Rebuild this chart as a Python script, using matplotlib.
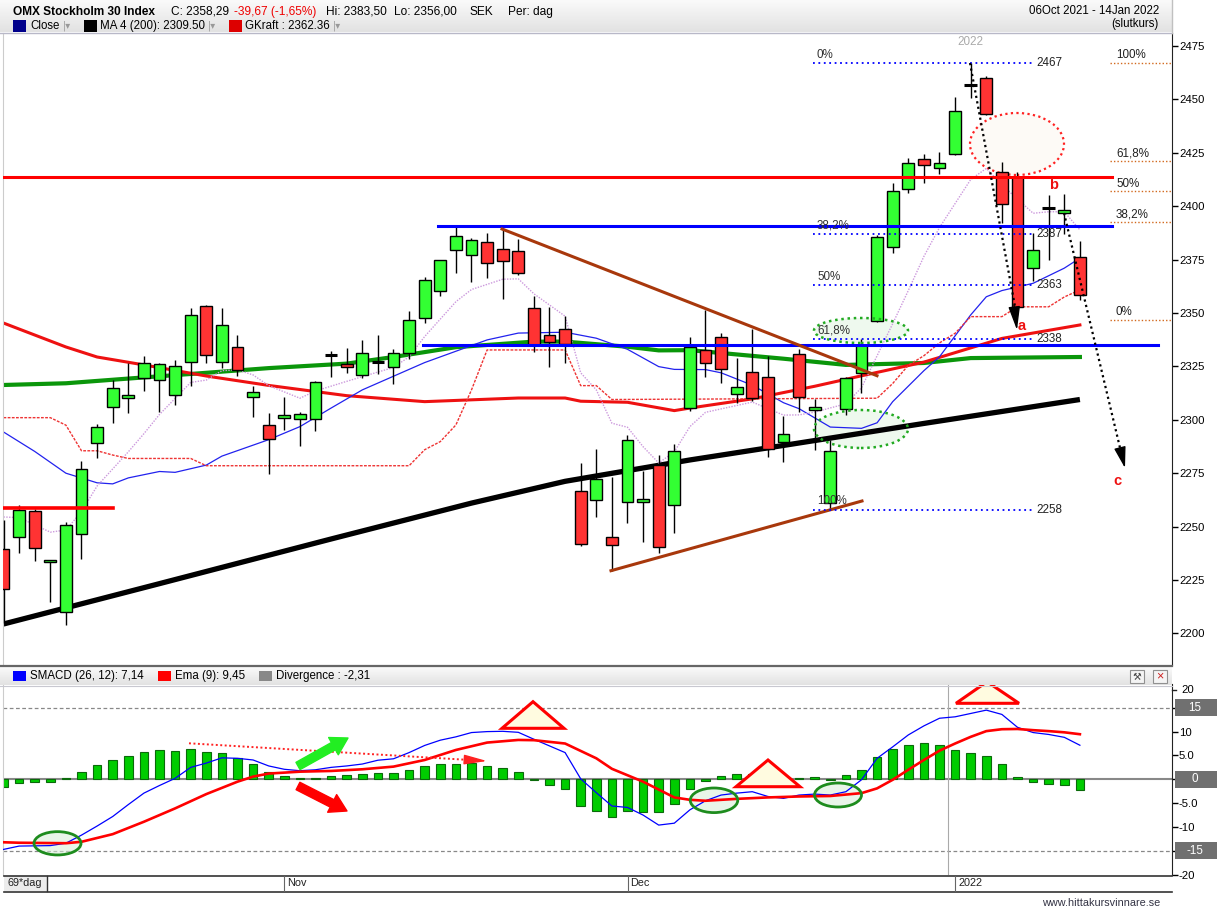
import matplotlib
matplotlib.use('Agg')
import matplotlib.pyplot as plt
import numpy as np
from matplotlib.patches import Rectangle, Ellipse, Polygon
from matplotlib.colors import LinearSegmentedColormap

plt.rcParams['font.family'] = ['Liberation Sans', 'DejaVu Sans']

# ---------------- data ----------------
month_labels = ['Nov', 'Dec', '2022']
month_start_idx = [18, 40, 61]

opens = [2239.5, 2245.0, 2257.3, 2233.3, 2209.9, 2246.4, 2289.3, 2305.9, 2310.1, 2319.4,
         2318.6, 2311.5, 2326.9, 2353.1, 2326.9, 2334.0, 2310.5, 2297.4, 2300.7, 2300.2,
         2300.2, 2330.5, 2326.0, 2321.0, 2327.0, 2324.6, 2331.1, 2347.5, 2360.2, 2379.4,
         2377.0, 2383.1, 2379.8, 2378.9, 2352.2, 2339.6, 2342.4, 2266.5, 2262.3, 2245.0,
         2261.4, 2261.4, 2278.7, 2260.0, 2305.4, 2332.7, 2338.9, 2312.1, 2322.2, 2320.0,
         2289.5, 2330.8, 2304.4, 2261.2, 2304.9, 2322.1, 2346.3, 2381.0, 2407.9, 2422.0,
         2417.9, 2424.3, 2456.7, 2459.9, 2415.9, 2413.8, 2371.2, 2399.3, 2396.7, 2376.1]
highs = [2253.0, 2260.0, 2258.3, 2234.4, 2252.2, 2280.7, 2297.9, 2318.6, 2326.7, 2329.9,
         2326.4, 2328.0, 2352.2, 2353.7, 2352.3, 2339.7, 2315.8, 2303.0, 2310.8, 2303.5,
         2318.2, 2332.2, 2333.5, 2337.4, 2339.7, 2333.0, 2350.9, 2366.7, 2374.9, 2390.4,
         2385.0, 2387.3, 2389.7, 2384.5, 2358.0, 2352.8, 2348.5, 2279.6, 2286.5, 2273.4,
         2292.9, 2276.2, 2283.5, 2288.7, 2338.6, 2351.4, 2340.8, 2328.8, 2342.4, 2329.9,
         2301.8, 2333.1, 2309.7, 2290.5, 2320.0, 2338.0, 2386.5, 2410.7, 2422.4, 2424.3,
         2425.2, 2451.0, 2467.0, 2461.0, 2420.6, 2416.2, 2387.3, 2405.2, 2405.7, 2383.5]
lows = [2205.0, 2237.6, 2234.0, 2214.9, 2203.9, 2235.0, 2282.0, 2298.4, 2303.0, 2313.6,
        2303.8, 2306.9, 2315.8, 2326.5, 2324.1, 2320.6, 2301.4, 2274.8, 2295.2, 2287.9,
        2294.9, 2320.2, 2322.0, 2319.4, 2321.3, 2316.6, 2328.3, 2345.2, 2358.0, 2368.9,
        2364.7, 2366.5, 2356.4, 2368.0, 2331.6, 2324.6, 2326.7, 2241.1, 2254.6, 2229.4,
        2251.5, 2242.9, 2237.8, 2247.1, 2304.3, 2320.2, 2317.4, 2308.0, 2308.9, 2282.7,
        2280.4, 2303.8, 2285.9, 2258.0, 2302.3, 2312.4, 2345.8, 2377.9, 2406.3, 2410.7,
        2415.1, 2424.0, 2450.8, 2442.6, 2392.0, 2352.4, 2365.1, 2374.8, 2387.0, 2356.0]
closes = [2221.0, 2257.8, 2239.8, 2234.3, 2250.6, 2276.8, 2296.6, 2314.8, 2311.5, 2326.4,
          2326.0, 2325.1, 2348.9, 2330.2, 2344.2, 2323.3, 2312.8, 2290.9, 2302.1, 2302.6,
          2317.5, 2330.5, 2324.6, 2331.4, 2327.0, 2331.1, 2346.6, 2365.3, 2374.7, 2385.9,
          2384.0, 2373.3, 2374.2, 2368.6, 2335.0, 2336.3, 2335.4, 2241.7, 2272.2, 2241.2,
          2290.5, 2262.9, 2240.3, 2285.3, 2334.2, 2326.5, 2323.6, 2315.5, 2310.1, 2286.2,
          2293.2, 2310.8, 2306.0, 2285.5, 2319.4, 2335.0, 2385.7, 2407.0, 2420.4, 2419.2,
          2420.1, 2444.6, 2456.7, 2443.0, 2400.9, 2352.7, 2379.5, 2399.3, 2398.1, 2358.29]

# moving averages / bands (candle index, value)
ma200_idx = [0, 10, 21, 30, 36, 44, 50, 59, 69]
ma200_val = [2204.4, 2223.3, 2244.2, 2261.0, 2271.2, 2281.2, 2288.0, 2298.3, 2309.5]

red_ma_idx = [0, 4, 6, 9, 13, 17, 22, 27, 33, 36, 37, 40, 43, 44, 48, 52, 55, 59, 64, 69]
red_ma_val = [2345.3, 2334.1, 2329.4, 2325.7, 2320.5, 2316.1, 2311.3, 2308.5, 2310.2, 2310.2,
              2308.7, 2308.2, 2304.3, 2305.5, 2309.8, 2315.7, 2320.6, 2327.0, 2338.1, 2344.4]

green_ma_idx = [0, 4, 8, 13, 17, 22, 25, 29, 34, 36, 40, 42, 44, 50, 54, 59, 62, 69]
green_ma_val = [2316.3, 2317.1, 2319.3, 2322.0, 2324.2, 2326.3, 2329.4, 2334.0, 2336.6, 2336.6,
                2334.2, 2332.5, 2332.6, 2328.6, 2325.7, 2326.6, 2328.9, 2329.4]

blue_ma_idx = [0, 2, 4, 6, 7, 8, 10, 11, 13, 14, 17, 19, 21, 23, 27, 31, 33, 36, 38, 40,
               42, 43, 45, 46, 48, 50, 51, 53, 55, 56, 57, 59, 60, 62, 63, 64, 66, 68, 69]
blue_ma_val = [2294.3, 2285.2, 2275.0, 2270.5, 2270.0, 2272.8, 2275.8, 2275.4, 2278.8, 2283.0,
               2290.7, 2296.8, 2305.5, 2314.0, 2326.8, 2337.4, 2340.6, 2341.0, 2338.2, 2333.0,
               2324.9, 2323.6, 2323.5, 2322.0, 2316.2, 2308.0, 2305.2, 2296.6, 2296.0, 2298.6,
               2308.5, 2323.0, 2329.5, 2349.1, 2357.6, 2360.5, 2363.9, 2371.0, 2375.7]

pink_idx = [0, 1, 3, 4, 5, 6, 8, 9, 10, 12, 13, 14, 15, 16, 17, 19, 20, 22, 23, 25, 26, 27,
            29, 30, 32, 33, 34, 36, 37, 38, 39, 40, 41, 42, 43, 44, 45, 48, 50, 51, 52, 54,
            55, 57, 58, 59, 60, 62, 63, 64, 66, 67, 68, 69]
pink_val = [2254.5, 2254.2, 2247.4, 2248.4, 2257.0, 2269.0, 2285.0, 2293.5, 2302.5, 2317.5,
            2318.6, 2323.0, 2323.4, 2321.0, 2316.0, 2310.1, 2313.5, 2318.0, 2320.2, 2324.5,
            2329.5, 2339.0, 2355.3, 2361.0, 2365.8, 2366.0, 2359.0, 2348.5, 2322.0, 2314.0,
            2298.4, 2296.5, 2287.4, 2279.8, 2285.0, 2296.8, 2303.5, 2308.3, 2302.2, 2302.3,
            2303.6, 2307.5, 2315.0, 2345.0, 2360.5, 2376.5, 2390.0, 2412.5, 2417.7, 2410.0,
            2396.7, 2397.4, 2397.4, 2388.9]

gkraft_idx = [0, 3, 4, 5, 6, 7, 8, 12, 13, 26, 27, 28, 29, 30, 31, 36, 37, 38, 39, 56,
              57, 58, 59, 60, 61, 62, 64, 65, 67, 68, 69]
gkraft_val = [2301.0, 2301.0, 2297.5, 2285.5, 2285.5, 2283.5, 2281.9, 2281.9, 2278.5, 2278.5,
              2286.0, 2289.8, 2297.6, 2314.0, 2332.7, 2332.7, 2316.0, 2316.0, 2309.5, 2310.1,
              2317.0, 2325.5, 2330.0, 2336.0, 2340.5, 2348.3, 2348.3, 2352.9, 2352.9, 2357.5,
              2360.8]

# lower panel: SMACD, EMA(9) and divergence histogram
smacd = [-14.7, -14.0, -13.95, -13.9, -13.4, -11.7, -9.8, -7.8, -5.3, -2.9,
         -1.3, 0.2, 2.5, 3.4, 4.5, 4.4, 4.05, 2.8, 2.1, 1.8,
         2.0, 2.5, 2.8, 3.2, 4.0, 4.3, 5.6, 7.1, 8.2, 8.9,
         9.8, 10.0, 10.06, 9.85, 8.4, 7.0, 5.6, 0.1, -2.8, -5.6,
         -5.9, -7.5, -9.6, -9.2, -6.4, -4.5, -3.3, -2.9, -2.6, -3.6,
         -4.0, -3.3, -3.1, -3.3, -2.6, -0.1, 4.4, 6.8, 9.3, 11.2,
         12.8, 13.1, 13.8, 14.5, 13.6, 10.9, 9.8, 9.4, 8.8, 7.14]
ema_idx = [0, 1, 4, 5, 7, 9, 11, 13, 15, 16, 17, 19, 21, 23, 25, 27, 29, 31, 33, 34, 36,
           38, 39, 41, 43, 44, 45, 47, 49, 51, 53, 55, 56, 57, 58, 59, 60, 61, 62, 63, 64,
           65, 66, 67, 68, 69]
ema_val = [-13.2, -13.3, -13.4, -13.1, -11.5, -8.9, -6.1, -3.1, -0.5, 0.56, 1.2, 1.6, 1.75,
           2.1, 2.66, 4.05, 6.15, 7.7, 8.25, 8.2, 7.5, 4.4, 2.2, -0.5, -3.8, -4.3, -4.5,
           -4.1, -3.8, -3.6, -3.5, -2.9, -1.9, -0.1, 2.0, 4.05, 6.0, 7.5, 8.9, 10.1, 10.5,
           10.55, 10.3, 10.1, 9.85, 9.45]
divergence = [-1.68, -0.84, -0.56, -0.63, 0.21, 1.47, 2.93, 3.98, 4.82, 5.66,
              6.08, 5.87, 6.29, 5.66, 5.45, 4.40, 3.14, 1.47, 0.63, 0.21,
              0.21, 0.63, 0.84, 1.05, 1.26, 1.26, 1.89, 2.73, 3.14, 3.14,
              3.35, 2.73, 2.31, 1.47, -0.1, -1.26, -2.10, -5.66, -6.71, -7.97,
              -6.71, -6.78, -6.92, -5.24, -2.10, -0.42, 0.63, 1.05, 1.05, 0.07,
              0.1, 0.21, 0.42, -0.2, 0.84, 1.89, 4.61, 6.29, 7.13, 7.55,
              7.13, 6.08, 5.45, 4.82, 3.14, 0.42, -0.63, -1.05, -1.26, -2.31]

main_ticks = [2200, 2225, 2250, 2275, 2300, 2325, 2350, 2375, 2400, 2425, 2450, 2475]
fib_left_levels = [2467, 2387, 2363, 2338, 2258]
fib_left_pcts = ['0%', '38,2%', '50%', '61,8%', '100%']
fib_right_levels = [2467, 2421.3, 2406.9, 2392.7, 2346.7]
fib_right_pcts = ['100%', '61,8%', '50%', '38,2%', '0%']

# ---------------- layout helpers ----------------
W, H = 1217, 907
fig = plt.figure(figsize=(W / 100, H / 100), dpi=100)
fig.patch.set_facecolor('white')


def fx(px):
    return px / W


def fy(py):
    return 1 - py / H


X0, DX = 3.5, 15.6


def xi(px):
    return (px - X0) / DX


def vmain(py):
    return 2475 - (py - 46) / 2.136


def vlow(py):
    return (779.3 - py) / 4.77


AX_L, AX_R = 3, 1172

# ---------------- main panel ----------------
ax = fig.add_axes([fx(AX_L), fy(665), fx(AX_R) - fx(AX_L), fy(33) - fy(665)])
ax.set_xlim(xi(AX_L), xi(AX_R))
ax.set_ylim(vmain(665), vmain(33))
for s in ['top', 'bottom']:
    ax.spines[s].set_visible(False)
ax.spines['left'].set_color('#cccccc')
ax.spines['right'].set_color('#222222')
ax.set_xticks([])
ax.yaxis.tick_right()
ax.set_yticks(main_ticks)
ax.tick_params(axis='y', length=4, width=1, pad=1, labelsize=8.2, colors='black')

# ellipses (under the indicator lines)
ax.add_patch(Ellipse((xi(1017), vmain(144)), 94 / DX, 62 / 2.136, facecolor='#fdfaf6',
                     edgecolor='#ff2222', lw=1.6, ls=(0, (1, 1.5)), zorder=1.5))
for cy, hh in [(330.5, 25), (429, 38)]:
    ax.add_patch(Ellipse((xi(861), vmain(cy)), 94 / DX, hh / 2.136, facecolor='#e4f6e4',
                         alpha=0.6, edgecolor='none', zorder=1.5))
    ax.add_patch(Ellipse((xi(861), vmain(cy)), 94 / DX, hh / 2.136, facecolor='none',
                         edgecolor='#22aa22', lw=1.8, ls=(0, (1, 1.5)), zorder=6))

# indicator lines (under candles)
ax.plot(ma200_idx, ma200_val, color='black', lw=3.8, zorder=2, solid_capstyle='butt')
ax.plot(green_ma_idx, green_ma_val, color='#0a960a', lw=3.0, zorder=2)
ax.plot(red_ma_idx, red_ma_val, color='#ee1111', lw=2.2, zorder=2)
ax.plot(blue_ma_idx, blue_ma_val, color='#2222ee', lw=0.9, zorder=2)
ax.plot(pink_idx, pink_val, color='#cc99dd', lw=1.0, ls=(0, (1, 1)), zorder=2)
ax.plot(gkraft_idx, gkraft_val, color='#ee3333', lw=1.0, ls=(0, (2, 1)), zorder=2)

# candles
o = np.array(opens); c = np.array(closes); hi = np.array(highs); lo = np.array(lows)
idx = np.arange(len(o))
doji = np.abs(c - o) < 0.05
up = c >= o
cols = np.where(up, '#33ff33', '#ff3333')
ax.vlines(idx, lo, hi, color='black', lw=1.0, zorder=4)
nb = ~doji
ax.bar(idx[nb], np.abs(c - o)[nb], bottom=np.minimum(o, c)[nb], width=0.76,
       color=cols[nb], edgecolor='black', linewidth=1.0, zorder=5)
ax.hlines(o[doji], idx[doji] - 0.4, idx[doji] + 0.4, color='black', lw=2.2, zorder=5)

# horizontal support / resistance lines
ax.plot([xi(AX_L), xi(1112)], [2413.7, 2413.7], color='#ff0000', lw=2.2, zorder=6)
ax.plot([xi(AX_L), xi(113)], [2258.6, 2258.6], color='#ff0000', lw=2.6, zorder=6)
ax.plot([xi(438), xi(1112)], [2390.9, 2390.9], color='#0000ff', lw=2.2, zorder=6)
ax.plot([xi(423), xi(1158)], [2334.8, 2334.8], color='#0000ff', lw=2.2, zorder=6)
# trend lines
ax.plot([xi(502), xi(877)], [vmain(229), vmain(375.7)], color='#a8380c', lw=2.2, zorder=6)
ax.plot([xi(611), xi(862)], [vmain(570.7), vmain(501)], color='#a8380c', lw=2.2, zorder=6)

# fibonacci (left set)
for lev, pct in zip(fib_left_levels, fib_left_pcts):
    ax.plot([xi(813), xi(1032)], [lev, lev], color='#0000ff', lw=1.3, ls=(0, (1, 2)), zorder=6)
    ax.text(xi(1036), lev, str(lev), ha='left', va='center', fontsize=8.4, color='#222222', zorder=7)
    ax.text(xi(817), lev + 3.8, pct, ha='left', va='center', fontsize=8.4, color='#333333', zorder=7)
# fibonacci (right set)
for lev, pct in zip(fib_right_levels, fib_right_pcts):
    ax.plot([xi(1110), xi(1171)], [lev, lev], color='#d2691e', lw=1.0, ls=(0, (1, 1.5)), zorder=6)
    ax.text(xi(1116), lev + 3.6, pct, ha='left', va='center', fontsize=8.4, color='#222222', zorder=7)

# dotted arrows
ax.plot([xi(970), xi(1016)], [vmain(63), vmain(312)], color='black', lw=1.6, ls=(0, (1, 1.5)), zorder=7)
ax.annotate('', xy=(xi(1017), vmain(330)), xytext=(xi(1014), vmain(305)),
            arrowprops=dict(arrowstyle='-|>,head_length=1.45,head_width=0.36', color='black',
                            lw=1, mutation_scale=10, shrinkA=0, shrinkB=0), zorder=8)
ax.plot([xi(1064), xi(1121)], [vmain(213), vmain(452)], color='black', lw=1.6, ls=(0, (1, 1.5)), zorder=7)
ax.annotate('', xy=(xi(1125), vmain(468)), xytext=(xi(1120), vmain(448)),
            arrowprops=dict(arrowstyle='-|>,head_length=1.3,head_width=0.36', color='black',
                            lw=1, mutation_scale=10, shrinkA=0, shrinkB=0), zorder=8)

ax.text(xi(1022), vmain(326), 'a', color='#ee1111', fontsize=10.5, fontweight='bold',
        ha='center', va='center', zorder=8)
ax.text(xi(1054), vmain(185), 'b', color='#ee1111', fontsize=10.5, fontweight='bold',
        ha='center', va='center', zorder=8)
ax.text(xi(1117), vmain(481), 'c', color='#ee1111', fontsize=10.5, fontweight='bold',
        ha='center', va='center', zorder=8)
ax.text(xi(970.5), vmain(42), '2022', color='#aaaaaa', fontsize=8.4, ha='center', va='center', zorder=8)

# ---------------- lower panel ----------------
axl = fig.add_axes([fx(AX_L), fy(875), fx(AX_R) - fx(AX_L), fy(684) - fy(875)])
axl.set_xlim(xi(AX_L), xi(AX_R))
axl.set_ylim(vlow(875), vlow(684))
for s in ['top', 'bottom']:
    axl.spines[s].set_visible(False)
axl.spines['left'].set_color('#cccccc')
axl.spines['right'].set_color('#222222')
axl.set_xticks([])
axl.yaxis.tick_right()
axl.set_yticks([15, 10, 5, 0, -5, -10, -15, -20])
axl.set_yticklabels(['', '10', '5.0', '', '-5.0', '-10', '', '-20'])
axl.tick_params(axis='y', length=4, width=1, pad=1, labelsize=8.2, colors='black')

axl.axhline(0, color='#888888', lw=1.5, zorder=1)
axl.axhline(15, color='#888888', lw=0.9, ls=(0, (3, 2)), zorder=1)
axl.axhline(-15, color='#888888', lw=0.9, ls=(0, (3, 2)), zorder=1)
axl.axvline(xi(948), color='#aaaaaa', lw=0.8, zorder=1)

axl.bar(idx, divergence, width=0.56, color='#00cc00', edgecolor='#0a6a0a', lw=0.8, zorder=2)

# ellipses: translucent fill under the lines, outline above
for cx, cy, w, hh in [(57.5, 843.3, 47, 23.3), (714, 800.3, 47.5, 24.6), (838, 795, 47, 24)]:
    axl.add_patch(Ellipse((xi(cx), vlow(cy)), w / DX, hh / 4.77, facecolor='#d8eed8',
                          alpha=0.55, edgecolor='none', zorder=3))
    axl.add_patch(Ellipse((xi(cx), vlow(cy)), w / DX, hh / 4.77, facecolor='none',
                          edgecolor='#1e8c1e', lw=2.0, zorder=5))

axl.plot(idx, smacd, color='#0000ff', lw=0.9, zorder=4)
axl.plot(ema_idx, ema_val, color='#ff0000', lw=1.9, zorder=4)

# triangles
for apx, apy, bl, br, by in [(533, 701.7, 502, 564, 728.3), (768, 760, 736, 800, 786.7),
                            (987, 681.7, 956, 1019, 703.3)]:
    axl.add_patch(Polygon([(xi(bl), vlow(by)), (xi(apx), vlow(apy)), (xi(br), vlow(by))],
                          closed=True, facecolor='#fffbe0', edgecolor='#ff0000', lw=2.2,
                          joinstyle='miter', zorder=6))
# fat arrows
axl.annotate('', xy=(xi(348), vlow(738)), xytext=(xi(298), vlow(766)),
             arrowprops=dict(arrowstyle='simple,head_length=0.8,head_width=0.95,tail_width=0.4',
                             color='#22ee22', mutation_scale=15, shrinkA=0, shrinkB=0), zorder=7)
axl.annotate('', xy=(xi(347), vlow(811)), xytext=(xi(298), vlow(786)),
             arrowprops=dict(arrowstyle='simple,head_length=0.8,head_width=0.95,tail_width=0.4',
                             color='#ff0000', mutation_scale=15, shrinkA=0, shrinkB=0), zorder=7)
# red dotted line with arrow head
axl.plot([xi(189), xi(470)], [vlow(743.3), vlow(760)], color='#ff2222', lw=1.4,
         ls=(0, (1, 1.3)), zorder=6)
axl.annotate('', xy=(xi(487), vlow(761)), xytext=(xi(468), vlow(759.8)),
             arrowprops=dict(arrowstyle='-|>,head_length=1.4,head_width=0.3', color='#ff2222',
                             lw=1, mutation_scale=10, shrinkA=0, shrinkB=0), zorder=7)

# boxed tick labels of the lower axis
for val in [15, 0, -15]:
    py = 779.3 - val * 4.77
    fig.add_artist(Rectangle((fx(1175), fy(py + 8.5)), fx(42), 17 / H, transform=fig.transFigure,
                             facecolor='#707070', edgecolor='none', zorder=5))
    fig.text(fx(1195), fy(py), str(val), color='white', fontsize=8.4, ha='center', va='center', zorder=6)
fig.text(fx(1181), fy(690), '20', fontsize=8.2, ha='left', va='center')
fig.add_artist(plt.Line2D([fx(1172), fx(1176)], [fy(690), fy(690)], color='#222222', lw=1))

# ---------------- header bars ----------------
grad = LinearSegmentedColormap.from_list('g', ['#fafafa', '#e2e2e2'])
hdr = fig.add_axes([0, fy(32), fx(AX_R), fy(0) - fy(32)])
hdr.imshow(np.linspace(0, 1, 64)[:, None], cmap=grad, aspect='auto', extent=[0, 1, 0, 1])
hdr.axis('off')
fig.add_artist(plt.Line2D([0, fx(AX_R)], [fy(32.5), fy(32.5)], color='#b8b8c8', lw=1))
fig.add_artist(plt.Line2D([fx(AX_R), fx(AX_R)], [fy(0), fy(32.5)], color='#c0c0c0', lw=1))

lhdr = fig.add_axes([0, fy(685), fx(AX_R), fy(667) - fy(685)])
lhdr.imshow(np.linspace(0, 1, 64)[:, None], cmap=grad, aspect='auto', extent=[0, 1, 0, 1])
lhdr.axis('off')
fig.add_artist(plt.Line2D([0, fx(AX_R)], [fy(666), fy(666)], color='#666666', lw=1.6))
fig.add_artist(plt.Line2D([0, fx(AX_R)], [fy(685.5), fy(685.5)], color='#c8c8d0', lw=0.8))
# small icons right of lower header
fig.add_artist(Rectangle((fx(1130), fy(683)), fx(14), 13 / H, transform=fig.transFigure,
                         facecolor='#f4f4f4', edgecolor='#909090', lw=0.8))
fig.add_artist(Rectangle((fx(1153), fy(683)), fx(14), 13 / H, transform=fig.transFigure,
                         facecolor='#f4f4f4', edgecolor='#909090', lw=0.8))
fig.text(fx(1137), fy(676.5), '\u2692', fontsize=7, ha='center', va='center', color='#444444',
         family=['DejaVu Sans'])
fig.text(fx(1160), fy(676.5), '\u00d7', fontsize=9, ha='center', va='center', color='#cc2222')

renderer = fig.canvas.get_renderer()


def seq_text(x, y, s, gap, **kw):
    t = fig.text(fx(x), fy(y), s, ha='left', va='center', **kw)
    bb = t.get_window_extent(renderer)
    return bb.x1 + gap


def square(x, y0, w, h, color):
    fig.add_artist(Rectangle((fx(x), fy(y0 + h)), w / W, h / H, transform=fig.transFigure,
                             facecolor=color, edgecolor='none'))
    return x + w


FS = 8.6
x = seq_text(13, 11.7, 'OMX Stockholm 30 Index', 16, fontsize=FS, fontweight='bold')
x = seq_text(x, 11.7, 'C: 2358,29', 5, fontsize=FS)
x = seq_text(x, 11.7, '-39,67 (-1,65%)', 9, fontsize=FS, color='#ee0000')
x = seq_text(x, 11.7, 'Hi: 2383,50', 8, fontsize=FS)
x = seq_text(x, 11.7, 'Lo: 2356,00', 12, fontsize=FS)
x = seq_text(x, 11.7, 'SEK', 15, fontsize=FS)
x = seq_text(x, 11.7, 'Per: dag', 0, fontsize=FS)

fig.text(fx(1159), fy(11), '06Oct 2021 - 14Jan 2022', ha='right', va='center', fontsize=8.3)
fig.text(fx(1159), fy(24.5), '(slutkurs)', ha='right', va='center', fontsize=8.3)

FS2 = 8.3
x = square(13, 20.5, 13, 11, '#00008b') + 4
x = seq_text(x, 26, 'Close', 3, fontsize=FS2)
x = seq_text(x, 26, '|\u25be', 13, fontsize=7, color='#999999', family=['DejaVu Sans'])
x = square(x, 20.5, 13, 11, '#000000') + 3
x = seq_text(x, 26, 'MA 4 (200): 2309.50', 3, fontsize=FS2)
x = seq_text(x, 26, '|\u25be', 13, fontsize=7, color='#999999', family=['DejaVu Sans'])
x = square(x, 20.5, 13, 11, '#dd0000') + 3
x = seq_text(x, 26, 'GKraft : 2362.36', 3, fontsize=FS2)
x = seq_text(x, 26, '|\u25be', 0, fontsize=7, color='#999999', family=['DejaVu Sans'])

x = square(13, 671, 13, 10, '#0000ff') + 4
x = seq_text(x, 676, 'SMACD (26, 12): 7,14', 14, fontsize=FS2)
x = square(x, 671, 13, 10, '#ff0000') + 4
x = seq_text(x, 676, 'Ema (9): 9,45', 14, fontsize=FS2)
x = square(x, 671, 13, 10, '#888888') + 4
x = seq_text(x, 676, 'Divergence : -2,31', 0, fontsize=FS2)

# ---------------- bottom date axis ----------------
fig.add_artist(plt.Line2D([fx(4), fx(AX_R)], [fy(875.5), fy(875.5)], color='#333333', lw=1.2))
fig.add_artist(plt.Line2D([fx(4), fx(AX_R)], [fy(891.5), fy(891.5)], color='#333333', lw=1.2))
fig.add_artist(Rectangle((fx(4), fy(891)), fx(43), 15 / H, transform=fig.transFigure,
                         facecolor='#ececec', edgecolor='none'))
fig.add_artist(plt.Line2D([fx(47), fx(47)], [fy(876), fy(891)], color='#333333', lw=1))
fig.text(fx(7), fy(883.5), '69*dag', fontsize=7.8, ha='left', va='center', color='#222222')
for lab, mi in zip(month_labels, month_start_idx):
    px = X0 + mi * DX
    fig.add_artist(plt.Line2D([fx(px), fx(px)], [fy(876), fy(891)], color='#666666', lw=0.8))
    fig.text(fx(px + 3), fy(883.5), lab, fontsize=7.8, ha='left', va='center', color='#222222')

fig.text(fx(1160), fy(902.5), 'www.hittakursvinnare.se', fontsize=7.8, ha='right', va='center',
         color='#333344')

fig.savefig('out.png', dpi=100, facecolor='white')
